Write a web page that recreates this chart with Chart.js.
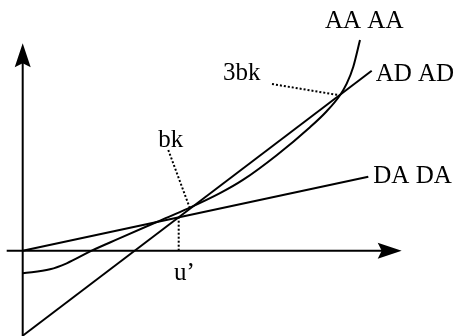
<!DOCTYPE html>
<html>
<head>
<meta charset="utf-8">
<script src="https://cdn.jsdelivr.net/npm/chart.js@4.4.0/dist/chart.umd.min.js"></script>
<style>
  html, body { margin: 0; padding: 0; background: #fff; }
  #wrap { width: 458px; height: 336px; }
</style>
</head>
<body>
<div id="wrap"><canvas id="chart" width="458" height="336"></canvas></div>
<script>
// curves, in diagram units (origin where the axes cross)
const daX = [0, 34.56];
const daY = [0, 7.4];
const adX = [0, 34.9];
const adY = [-8.5, 18.0];
const aaX = [0, 2.73, 4.4, 6.9, 9.6, 13.4, 16.5, 19.73, 22.06, 25.4, 28.73, 30.4, 31.73, 32.4, 33.06, 33.73];
const aaY = [-2.26, -1.86, -1.26, 0, 1.2, 2.87, 4.2, 5.75, 7.1, 9.55, 12.35, 13.95, 15.55, 16.7, 18.4, 21.07];

// dotted guide lines
const bkLeadX = [14.56, 16.7];
const bkLeadY = [10.07, 4.3];
const bk3LeadX = [24.93, 31.65];
const bk3LeadY = [16.67, 15.55];
const uX = [15.6, 15.6];
const uY = [0, 3.34];

// text labels
const labelText = ['AA AA', 'AD AD', '3bk', 'bk', 'DA DA', 'u\u2019'];
const labelX = [30.23, 35.3, 20.03, 13.56, 35.06, 15.13];
const labelY = [22.24, 17.0, 17.07, 10.4, 6.74, -2.93];

// axis extents
const xAxisSpan = [-1.6, 37.9];
const yAxisSpan = [-8.6, 20.74];

function pts(xs, ys) {
    return xs.map((v, i) => ({x: v, y: ys[i]}));
}

function arrowHead(ctx, tx, ty, ang) {
    const len = 24, half = 8, notch = 4;
    ctx.save();
    ctx.translate(tx, ty);
    ctx.rotate(ang);
    ctx.beginPath();
    ctx.moveTo(0, 0);
    ctx.lineTo(-len, -half);
    ctx.lineTo(-len + notch, 0);
    ctx.lineTo(-len, half);
    ctx.closePath();
    ctx.fill();
    ctx.restore();
}

const diagramPlugin = {
    id: 'diagram',
    afterDatasetsDraw(chart) {
        const {ctx, scales: {x, y}} = chart;
        const x0 = x.getPixelForValue(0);
        const y0 = y.getPixelForValue(0);
        ctx.save();
        ctx.strokeStyle = '#000';
        ctx.fillStyle = '#000';
        ctx.lineWidth = 2;

        // horizontal axis
        const hx1 = x.getPixelForValue(xAxisSpan[0]);
        const hx2 = x.getPixelForValue(xAxisSpan[1]);
        ctx.beginPath();
        ctx.moveTo(hx1, y0);
        ctx.lineTo(hx2 - 12, y0);
        ctx.stroke();
        arrowHead(ctx, hx2, y0, 0);

        // vertical axis
        const vy1 = y.getPixelForValue(yAxisSpan[0]);
        const vy2 = y.getPixelForValue(yAxisSpan[1]);
        ctx.beginPath();
        ctx.moveTo(x0, vy1);
        ctx.lineTo(x0, vy2 + 12);
        ctx.stroke();
        arrowHead(ctx, x0, vy2, -Math.PI / 2);

        // labels
        ctx.font = '25px "Liberation Serif", "Times New Roman", serif';
        ctx.textAlign = 'left';
        ctx.textBaseline = 'alphabetic';
        labelText.forEach((t, i) => {
            ctx.fillText(t, x.getPixelForValue(labelX[i]), y.getPixelForValue(labelY[i]));
        });
        ctx.restore();
    }
};

const solid = {borderColor: '#000', borderWidth: 2, pointRadius: 0, showLine: true, fill: false};
const dotted = {borderColor: '#000', borderWidth: 2, pointRadius: 0, showLine: true, fill: false, borderDash: [2, 2]};

new Chart(document.getElementById('chart'), {
    type: 'scatter',
    data: {
        datasets: [
            {...solid, label: 'DA DA', data: pts(daX, daY)},
            {...solid, label: 'AD AD', data: pts(adX, adY)},
            {...solid, label: 'AA AA', data: pts(aaX, aaY), cubicInterpolationMode: 'monotone'},
            {...dotted, label: 'bk', data: pts(bkLeadX, bkLeadY)},
            {...dotted, label: '3bk', data: pts(bk3LeadX, bk3LeadY)},
            {...dotted, label: 'u', data: pts(uX, uY)}
        ]
    },
    options: {
        responsive: false,
        animation: false,
        devicePixelRatio: 1,
        layout: {padding: 0},
        plugins: {legend: {display: false}, tooltip: {enabled: false}},
        scales: {
            x: {type: 'linear', display: false, min: -2.27, max: 43.53},
            y: {type: 'linear', display: false, min: -8.53, max: 25.07}
        }
    },
    plugins: [diagramPlugin]
});
</script>
</body>
</html>
